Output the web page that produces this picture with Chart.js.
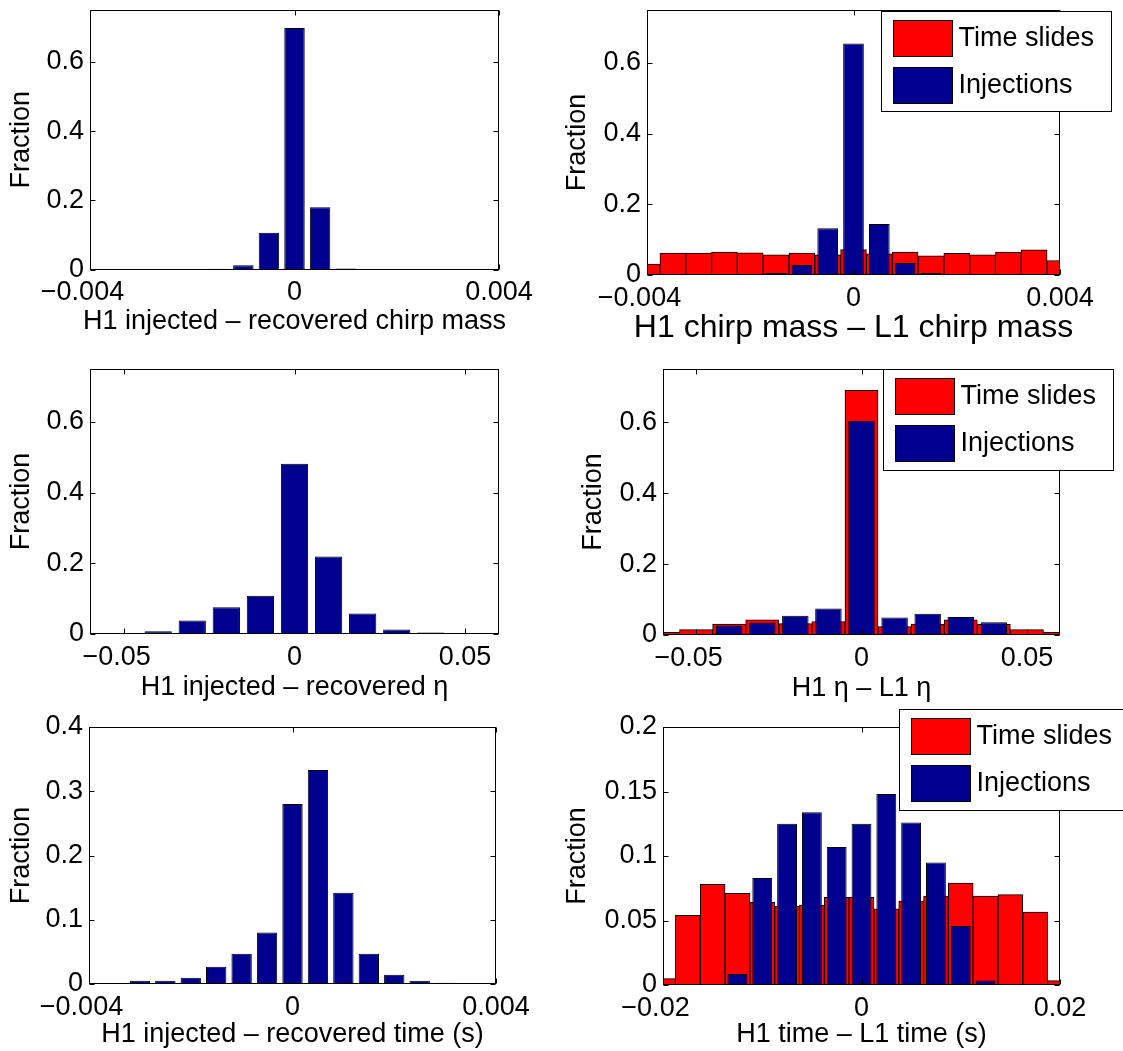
<!DOCTYPE html>
<html>
<head>
<meta charset="utf-8">
<script src="https://cdn.jsdelivr.net/npm/chart.js@4.4.1/dist/chart.umd.min.js"></script>
<style>
  html, body { margin: 0; padding: 0; background: #fff; }
  #page { position: relative; width: 1123px; height: 1051px; overflow: hidden; background: #fff; }
  #page canvas { position: absolute; }
</style>
</head>
<body>
<div id="page"></div>
<script>
// ---- values (bin centres / fractions) ----
const legendLabels = ['Time slides', 'Injections'];
const slideColor = '#ff0000';
const injColor = '#00008f';

// H1 injected - recovered chirp mass
const chirpRecBins = [-0.0015, -0.001, -0.0005, 0, 0.0005, 0.001];
const chirpRecInj = [0.002, 0.012, 0.106, 0.698, 0.180, 0.003];

// H1 chirp mass - L1 chirp mass
const chirpDiffBins = [-0.004, -0.0035, -0.003, -0.0025, -0.002, -0.0015, -0.001, -0.0005, 0,
  0.0005, 0.001, 0.0015, 0.002, 0.0025, 0.003, 0.0035, 0.004];
const chirpDiffSlides = [0.031, 0.062, 0.062, 0.065, 0.063, 0.057, 0.062, 0.057, 0.072,
  0.060, 0.065, 0.054, 0.061, 0.057, 0.065, 0.071, 0.041];
const chirpDiffInj = [0, 0, 0, 0, 0.001, 0.006, 0.028, 0.132, 0.655,
  0.144, 0.034, 0.006, 0.001, 0, 0, 0, 0];

// H1 injected - recovered eta
const etaRecBins = [-0.04, -0.03, -0.02, -0.01, 0, 0.01, 0.02, 0.03, 0.04];
const etaRecInj = [0.0075, 0.038, 0.076, 0.108, 0.482, 0.219, 0.058, 0.013, 0.004];

// H1 eta - L1 eta
const etaDiffBins = [-0.06, -0.05, -0.04, -0.03, -0.02, -0.01, 0, 0.01, 0.02, 0.03, 0.04, 0.05, 0.06];
const etaDiffSlides = [0.0075, 0.015, 0.031, 0.043, 0.032, 0.038, 0.69, 0.024, 0.031, 0.043, 0.030, 0.015, 0.0075];
const etaDiffInj = [0, 0, 0.027, 0.035, 0.054, 0.075, 0.604, 0.049, 0.060, 0.051, 0.036, 0, 0];

// H1 injected - recovered time
const timeRecBins = [-0.003, -0.0025, -0.002, -0.0015, -0.001, -0.0005, 0,
  0.0005, 0.001, 0.0015, 0.002, 0.0025, 0.003, 0.0035];
const timeRecInj = [0.005, 0.005, 0.0098, 0.027, 0.047, 0.080, 0.280,
  0.333, 0.142, 0.047, 0.0145, 0.005, 0.002, 0.001];

// H1 time - L1 time
const timeDiffBins = [-0.02, -0.0175, -0.015, -0.0125, -0.01, -0.0075, -0.005, -0.0025, 0,
  0.0025, 0.005, 0.0075, 0.01, 0.0125, 0.015, 0.0175, 0.02];
const timeDiffSlides = [0.005, 0.054, 0.078, 0.071, 0.064, 0.061, 0.062, 0.068, 0.068,
  0.059, 0.065, 0.069, 0.079, 0.069, 0.070, 0.0565, 0.0034];
const timeDiffInj = [0, 0, 0.0005, 0.0085, 0.083, 0.125, 0.134, 0.107, 0.125,
  0.148, 0.126, 0.095, 0.0457, 0.0034, 0, 0, 0];

// axis ticks
const chirpTicks = [-0.004, 0, 0.004];
const etaTicks = [-0.05, 0, 0.05];
const timeDiffTicks = [-0.02, 0, 0.02];
const fracTicks = [0, 0.2, 0.4, 0.6];
const timeRecFracTicks = [0, 0.1, 0.2, 0.3, 0.4];
const timeDiffFracTicks = [0, 0.05, 0.1, 0.15, 0.2];

// =============================================
// Panel layout
// =============================================
const FONT = "'Liberation Sans', Arial, Helvetica, sans-serif";
Chart.defaults.font.family = FONT;
Chart.defaults.color = '#000';

const slides = (bins, values) => ({ label: legendLabels[0], bins, values, color: slideColor, width: 1 });
const inj = (bins, values) => ({ label: legendLabels[1], bins, values, color: injColor, width: 0.8 });

const panels = [
  {
    frame: { l: 90, t: 10, r: 499, b: 269.5 },
    xMin: -0.004, xMax: 0.004, xTicks: chirpTicks, yMax: 0.75, yTicks: fracTicks,
    xTitle: 'H1 injected \u2013 recovered chirp mass', xTitleSize: 27, xTitleGap: 52, yTitleGap: 68,
    series: [inj(chirpRecBins, chirpRecInj)]
  },
  {
    frame: { l: 647, t: 10, r: 1060, b: 275 },
    xMin: -0.004, xMax: 0.004, xTicks: chirpTicks, yMax: 0.75, yTicks: fracTicks,
    xTitle: 'H1 chirp mass \u2013 L1 chirp mass', xTitleSize: 32, xTitleGap: 53, yTitleGap: 69,
    series: [slides(chirpDiffBins, chirpDiffSlides), inj(chirpDiffBins, chirpDiffInj)],
    legend: { dx: -179, dy: 1, w: 230, h: 100 }
  },
  {
    frame: { l: 90, t: 369, r: 499, b: 634 },
    xMin: -0.06, xMax: 0.06, xTicks: etaTicks, yMax: 0.75, yTicks: fracTicks,
    xTitle: 'H1 injected \u2013 recovered \u03b7', xTitleSize: 27, xTitleGap: 54, yTitleGap: 68,
    series: [inj(etaRecBins, etaRecInj)]
  },
  {
    frame: { l: 663, t: 369, r: 1060, b: 635 },
    xMin: -0.06, xMax: 0.06, xTicks: etaTicks, yMax: 0.75, yTicks: fracTicks,
    xTitle: 'H1 \u03b7 \u2013 L1 \u03b7', xTitleSize: 27, xTitleGap: 54, yTitleGap: 69,
    series: [slides(etaDiffBins, etaDiffSlides), inj(etaDiffBins, etaDiffInj)],
    legend: { dx: -177, dy: 0, w: 230, h: 101 }
  },
  {
    frame: { l: 89, t: 727, r: 496, b: 984 },
    xMin: -0.004, xMax: 0.004, xTicks: chirpTicks, yMax: 0.4, yTicks: timeRecFracTicks,
    xTitle: 'H1 injected \u2013 recovered time (s)', xTitleSize: 27, xTitleGap: 51, yTitleGap: 67,
    series: [inj(timeRecBins, timeRecInj)]
  },
  {
    frame: { l: 663, t: 727, r: 1060, b: 985 },
    xMin: -0.02, xMax: 0.02, xTicks: timeDiffTicks, yMax: 0.2, yTicks: timeDiffFracTicks,
    xTitle: 'H1 time \u2013 L1 time (s)', xTitleSize: 27, xTitleGap: 50, yTitleGap: 85,
    series: [slides(timeDiffBins, timeDiffSlides), inj(timeDiffBins, timeDiffInj)],
    legend: { dx: -161, dy: -18, w: 228, h: 101 }
  }
];

const fmt = v => String(+Number(v).toPrecision(6)).replace('-', '\u2212');
// MATLAB centres the number without its minus sign: pad the right side to match
const fmtX = v => (v < 0 ? fmt(v) + '  ' : fmt(v));

// frame, inward ticks, axis titles and legend box
function matlabDecor(p) {
  return {
    id: 'matlabDecor',
    afterDatasetsDraw(chart) {
      const { ctx, chartArea: a, scales: { x, y } } = chart;
      const L = Math.round(a.left) + 0.5, R = Math.round(a.right) - 0.5;
      const T = Math.round(a.top) + 0.5, B = Math.round(a.bottom) - 0.5;
      const tl = 5;
      ctx.save();
      ctx.strokeStyle = '#000';
      ctx.lineWidth = 1;
      ctx.strokeRect(L, T, R - L, B - T);
      ctx.beginPath();
      x.ticks.forEach(t => {
        const px = Math.round(x.getPixelForValue(t.value)) + 0.5;
        ctx.moveTo(px, B); ctx.lineTo(px, B - tl);
        ctx.moveTo(px, T); ctx.lineTo(px, T + tl);
      });
      y.ticks.forEach(t => {
        const py = Math.round(y.getPixelForValue(t.value)) + 0.5;
        ctx.moveTo(L, py); ctx.lineTo(L + tl, py);
        ctx.moveTo(R, py); ctx.lineTo(R - tl, py);
      });
      ctx.stroke();

      // axis titles
      ctx.fillStyle = '#000';
      ctx.textAlign = 'center';
      ctx.textBaseline = 'middle';
      ctx.font = p.xTitleSize + 'px ' + FONT;
      ctx.fillText(p.xTitle, (a.left + a.right) / 2, a.bottom + p.xTitleGap);
      ctx.save();
      ctx.translate(a.left - p.yTitleGap, (a.top + a.bottom) / 2);
      ctx.rotate(-Math.PI / 2);
      ctx.font = '27px ' + FONT;
      ctx.fillText('Fraction', 0, 0);
      ctx.restore();

      // legend
      if (p.legend) {
        const bx = Math.round(a.right + p.legend.dx) + 0.5;
        const by = Math.round(a.top + p.legend.dy) + 0.5;
        ctx.fillStyle = '#fff';
        ctx.fillRect(bx, by, p.legend.w, p.legend.h);
        ctx.strokeRect(bx, by, p.legend.w, p.legend.h);
        ctx.font = '27px ' + FONT;
        ctx.textAlign = 'left';
        chart.data.datasets.forEach((ds, i) => {
          const sy = by + 9 + i * 47;
          ctx.fillStyle = ds.backgroundColor;
          ctx.fillRect(bx + 12, sy, 59, 36);
          ctx.strokeRect(bx + 12, sy, 59, 36);
          ctx.fillStyle = '#000';
          ctx.fillText(ds.label, bx + 77, sy + 18);
        });
      }
      ctx.restore();
    }
  };
}

function makePanel(p) {
  const page = document.getElementById('page');
  const colX = p.frame.l < 560 ? 0 : 560;
  const colW = colX === 0 ? 560 : 563;
  // canvas may start above the page so the layout has room for the top tick label
  const top = p.frame.t - 30;
  const bottom = Math.ceil(p.frame.b + p.xTitleGap + 24);
  const xAxisH = 46;

  const canvas = document.createElement('canvas');
  canvas.width = colW;
  canvas.height = bottom - top;
  canvas.style.left = colX + 'px';
  canvas.style.top = top + 'px';
  page.appendChild(canvas);

  const datasets = p.series.map((s, i) => ({
    label: s.label,
    data: s.bins.map((x, j) => ({ x, y: s.values[j] })),
    backgroundColor: s.color,
    borderColor: '#000',
    borderWidth: 1,
    borderSkipped: 'start',
    barPercentage: s.width,
    categoryPercentage: 1,
    grouped: false,
    clip: 0,
    order: p.series.length - i
  }));

  new Chart(canvas, {
    type: 'bar',
    data: { datasets },
    options: {
      responsive: false,
      animation: false,
      events: [],
      layout: {
        padding: {
          left: 0,
          top: p.frame.t - top,
          right: colX + colW - p.frame.r,
          bottom: canvas.height - (p.frame.b - top) - xAxisH
        }
      },
      plugins: { legend: { display: false }, tooltip: { enabled: false } },
      scales: {
        x: {
          type: 'linear',
          min: p.xMin, max: p.xMax,
          offset: false,
          grid: { display: false, drawTicks: false, offset: false },
          border: { display: false },
          afterBuildTicks: s => { s.ticks = p.xTicks.map(v => ({ value: v })); },
          afterFit: s => { s.height = xAxisH; },
          ticks: { autoSkip: false, maxRotation: 0, minRotation: 0, padding: 7,
                   font: { size: 27 }, color: '#000', callback: v => fmtX(v) }
        },
        y: {
          type: 'linear',
          min: 0, max: p.yMax,
          grid: { display: false, drawTicks: false },
          border: { display: false },
          afterBuildTicks: s => { s.ticks = p.yTicks.map(v => ({ value: v })); },
          afterFit: s => { s.width = p.frame.l - colX; },
          ticks: { padding: 6, font: { size: 27 }, color: '#000', callback: v => fmt(v) }
        }
      }
    },
    plugins: [matlabDecor(p)]
  });
}

panels.forEach(makePanel);
</script>
</body>
</html>
